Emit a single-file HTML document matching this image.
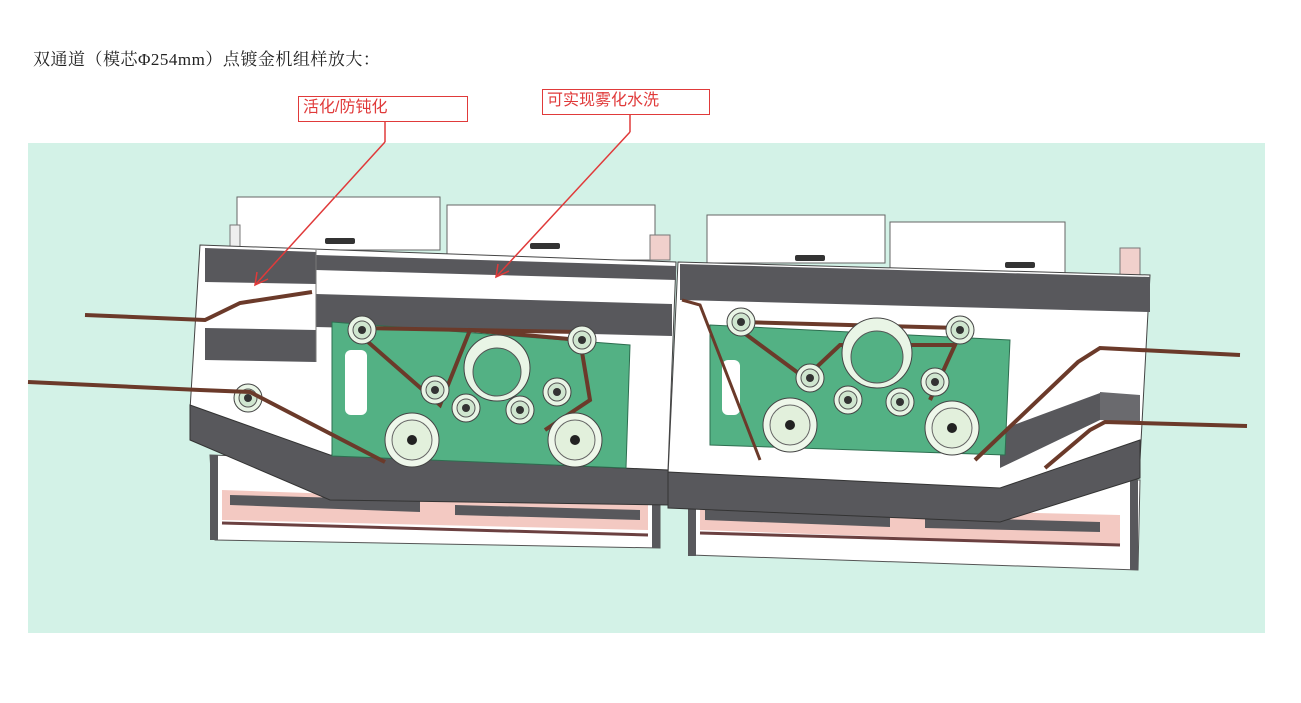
<!DOCTYPE html>
<html><head><meta charset="utf-8"><style>
html,body{margin:0;padding:0;background:#fff;}
body{width:1301px;height:703px;position:relative;overflow:hidden;font-family:"Liberation Serif","Noto Serif CJK SC",serif;}
.t{position:absolute;left:33px;top:45px;font-size:17px;color:#222;letter-spacing:0.5px;}
.lb{position:absolute;border:1.5px solid #e03a3a;color:#e03a3a;font-family:"Liberation Sans","Noto Sans CJK SC",sans-serif;font-size:16px;line-height:22px;padding-left:4px;box-sizing:border-box;background:#fff;}
svg{position:absolute;left:0;top:0;}
</style></head><body>
<div class="t">双通道（模芯Φ254mm）点镀金机组样放大：</div>
<svg width="1301" height="703" viewBox="0 0 1301 703">
<defs>
<g id="pul"><circle r="14" fill="#e9f5e6" stroke="#444" stroke-width="1"/><circle r="9" fill="#cfe6cf" stroke="#555"/><circle r="4" fill="#333"/></g>
<g id="big"><circle r="27" fill="#eef7ea" stroke="#444"/><circle r="20" fill="#e2f0dc" stroke="#666"/><circle r="5" fill="#222"/></g>
</defs>
<rect x="28" y="143" width="1237" height="490" fill="#d3f2e7"/>
<!-- LEFT MODULE -->
<rect x="237" y="197" width="203" height="53" fill="#fff" stroke="#666"/>
<rect x="447" y="205" width="208" height="55" fill="#fff" stroke="#666"/>
<rect x="230" y="225" width="10" height="30" fill="#eee" stroke="#777"/>
<rect x="650" y="235" width="20" height="25" fill="#f0d0cc" stroke="#777"/>
<rect x="325" y="238" width="30" height="6" fill="#333" rx="2"/><rect x="530" y="243" width="30" height="6" fill="#333" rx="2"/>
<polygon points="210,455 660,470 660,548 215,540" fill="#fff" stroke="#555"/>
<polygon points="222,490 648,505 648,530 222,520" fill="#f3c9c2"/>
<polygon points="230,495 420,500 420,512 230,505" fill="#58585c"/>
<polygon points="455,505 640,510 640,520 455,515" fill="#58585c"/>
<line x1="222" y1="523" x2="648" y2="535" stroke="#6b4040" stroke-width="3"/>
<rect x="210" y="455" width="8" height="85" fill="#58585c"/><rect x="652" y="470" width="8" height="78" fill="#58585c"/>
<polygon points="200,245 676,262 668,470 330,468 190,410" fill="#fff" stroke="#444"/>
<polygon points="316,255 676,266 676,280 316,270" fill="#58585c"/>
<polygon points="316,294 672,304 672,336 316,327" fill="#58585c"/>
<polygon points="205,248 316,252 316,284 205,282" fill="#58585c"/>
<polygon points="205,328 316,330 316,362 205,360" fill="#58585c"/>
<line x1="316" y1="250" x2="316" y2="362" stroke="#777"/>
<polygon points="190,405 330,455 668,470 668,505 330,500 190,440" fill="#58585c" stroke="#333"/>
<polygon points="332,322 630,345 626,468 332,456" fill="#53b184" stroke="#2e6e50"/>
<rect x="345" y="350" width="22" height="65" rx="6" fill="#fff"/>
<polyline points="360,335 440,405 470,330 580,340 590,400 545,430" fill="none" stroke="#6b3a2a" stroke-width="4"/>
<polyline points="360,328 580,332" fill="none" stroke="#6b3a2a" stroke-width="4"/>
<circle cx="497" cy="368" r="33" fill="#e9f5e6" stroke="#444"/><circle cx="497" cy="372" r="24" fill="#53b184" stroke="#555"/>
<use href="#pul" x="362" y="330"/><use href="#pul" x="582" y="340"/><use href="#pul" x="435" y="390"/><use href="#pul" x="557" y="392"/><use href="#pul" x="466" y="408"/><use href="#pul" x="520" y="410"/><use href="#pul" x="248" y="398"/>
<use href="#big" x="412" y="440"/><use href="#big" x="575" y="440"/>
<polyline points="85,315 205,320 240,303 312,292" fill="none" stroke="#6b3a2a" stroke-width="4"/>
<polyline points="28,382 200,390 250,392 385,462" fill="none" stroke="#6b3a2a" stroke-width="4"/>
<!-- RIGHT MODULE -->
<rect x="707" y="215" width="178" height="48" fill="#fff" stroke="#666"/>
<rect x="890" y="222" width="175" height="55" fill="#fff" stroke="#666"/>
<rect x="1120" y="248" width="20" height="30" fill="#f0d0cc" stroke="#777"/>
<rect x="795" y="255" width="30" height="6" fill="#333" rx="2"/><rect x="1005" y="262" width="30" height="6" fill="#333" rx="2"/>
<polygon points="688,470 1140,480 1138,570 690,555" fill="#fff" stroke="#555"/>
<polygon points="700,505 1120,515 1120,545 700,530" fill="#f3c9c2"/>
<polygon points="705,510 890,515 890,527 705,520" fill="#58585c"/>
<polygon points="925,517 1100,522 1100,532 925,528" fill="#58585c"/>
<line x1="700" y1="533" x2="1120" y2="545" stroke="#6b4040" stroke-width="3"/>
<rect x="688" y="470" width="8" height="86" fill="#58585c"/><rect x="1130" y="480" width="8" height="90" fill="#58585c"/>
<polygon points="678,262 1150,275 1140,460 1000,490 668,475" fill="#fff" stroke="#444"/>
<polygon points="680,264 1150,277 1150,312 680,300" fill="#58585c"/>
<polygon points="668,472 1000,488 1140,440 1140,478 1000,522 668,508" fill="#58585c" stroke="#333"/>
<polygon points="1000,430 1100,393 1100,420 1000,468" fill="#58585c"/>
<polygon points="1100,392 1140,395 1140,422 1100,420" fill="#6a6a6e"/>
<polygon points="710,325 1010,340 1005,455 710,445" fill="#53b184" stroke="#2e6e50"/>
<rect x="722" y="360" width="18" height="55" rx="6" fill="#fff"/>
<polyline points="740,322 960,328" fill="none" stroke="#6b3a2a" stroke-width="4"/>
<polyline points="740,330 805,378 840,345 955,345 930,400" fill="none" stroke="#6b3a2a" stroke-width="4"/>
<circle cx="877" cy="353" r="35" fill="#e9f5e6" stroke="#444"/><circle cx="877" cy="357" r="26" fill="#53b184" stroke="#555"/>
<use href="#pul" x="741" y="322"/><use href="#pul" x="960" y="330"/><use href="#pul" x="810" y="378"/><use href="#pul" x="935" y="382"/><use href="#pul" x="848" y="400"/><use href="#pul" x="900" y="402"/>
<use href="#big" x="790" y="425"/><use href="#big" x="952" y="428"/>
<polyline points="682,300 700,305 760,460" fill="none" stroke="#6b3a2a" stroke-width="3"/>
<polyline points="1240,355 1100,348 1078,362 975,460" fill="none" stroke="#6b3a2a" stroke-width="4"/>
<polyline points="1247,426 1105,422 1090,430 1045,468" fill="none" stroke="#6b3a2a" stroke-width="4"/>
<g stroke="#e03a3a" stroke-width="1.5" fill="none">
<line x1="385" y1="122" x2="385" y2="142"/><line x1="385" y1="142" x2="255" y2="285"/>
<polyline points="257,272 255,285 268,279"/>
<line x1="630" y1="115" x2="630" y2="132"/><line x1="630" y1="132" x2="496" y2="277"/>
<polyline points="498,264 496,277 509,271"/>
</g>
</svg>
<div class="lb" style="left:298px;top:96px;width:170px;height:26px;">活化/防钝化</div>
<div class="lb" style="left:542px;top:89px;width:168px;height:26px;">可实现雾化水洗</div>
</body></html>
